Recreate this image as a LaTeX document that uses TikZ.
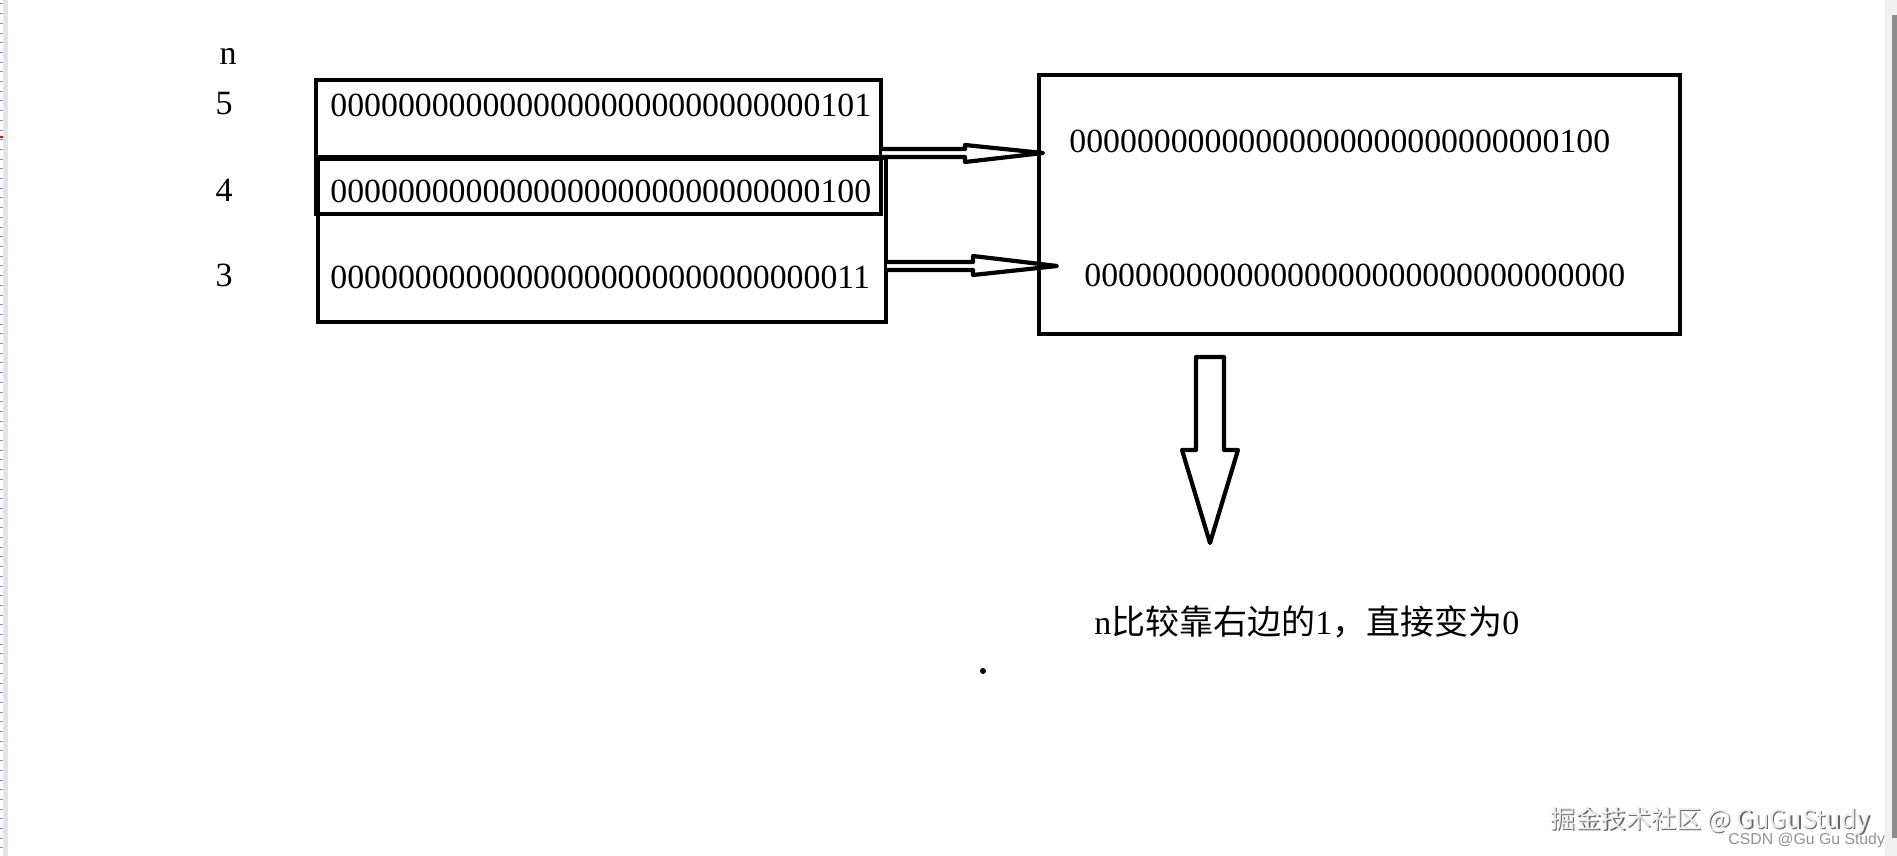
\documentclass[tikz,border=0pt]{standalone}
\usepackage{fontspec}
\setmainfont{Liberation Serif}
\newfontfamily\cjk{Noto Sans CJK SC}
\newfontfamily\wmsans{Liberation Sans}
\newcommand\zten{0000000000}
\begin{document}
\begin{tikzpicture}[x=0.5pt,y=-0.5pt,
  box/.style={draw=black,line width=2.3pt},
  blockarrow/.style={draw=black,line width=2.1pt,line join=round,fill=white},
  bits/.style={anchor=base west,inner sep=0pt,font=\fontsize{16.9}{20}\selectfont},
  lbl/.style={anchor=base,inner sep=0pt,font=\fontsize{17}{20}\selectfont}]
\useasboundingbox (0,0) rectangle (1897,856);
\fill[white] (0,0) rectangle (1897,856);
% window edges
\fill[white] (0,0) rectangle (3,856);
\fill[blue!8!gray!20] (3,0) rectangle (8,856);
\foreach \k in {0,...,88} \draw[blue!30!gray!70,line width=0.5pt] (0,{4+9.7*\k}) -- (3,{4+9.7*\k});
\draw[red,line width=0.6pt] (0,137) -- (3,137);
\fill[gray!12] (1885,0) rectangle (1897,856);
\fill[gray!90] (1892,15) rectangle (1897,838);
% labels
\node[lbl] (n) at (228,65) {n};
\node[lbl] (l5) at (224,115) {5};
\node[lbl] (l4) at (224,201) {4};
\node[lbl] (l3) at (224,286) {3};
% left boxes
\draw[box] (318,158) rectangle (886,322);
\draw[box] (886,149) -- (886,158);
\draw[box] (316,80) rectangle (881,157);
\draw[box] (316,159) rectangle (881,214);
\node[bits] (t5) at (330,117) {\zten\zten000000000101};
\node[bits] (t4) at (330,203) {\zten\zten000000000100};
\node[bits] (t3) at (330,288) {\zten\zten\zten11};
% right box
\draw[box] (1039,75) rectangle (1680,334);
\node[bits] (r1) at (1069,153) {\zten\zten000000000100};
\node[bits] (r2) at (1084,286) {\zten\zten\zten00};
% arrows
\coordinate (a1u) at (882,149);
\coordinate (a1d) at (882,157);
\coordinate (a1t) at (1043,153);
\coordinate (a2u) at (887,262);
\coordinate (a2d) at (887,270);
\coordinate (a2t) at (1057,266);
\draw[blockarrow] (a1u) -- (965,149) -- (965,145) -- (a1t) -- (965,162) -- (965,157) -- (a1d);
\draw[blockarrow] (a2u) -- (973,262) -- (973,256) -- (a2t) -- (973,275) -- (973,270) -- (a2d);
\coordinate (dtip) at (1210,543);
\draw[blockarrow] (1196,357) -- (1224,357) -- (1224,450) -- (1238,450) -- (dtip) -- (1182,450) -- (1196,450) -- cycle;
% note
\node[anchor=base west,inner sep=0pt,font=\fontsize{17}{20}\selectfont] (note) at (1094,634) {n{\cjk 比较靠右边的}1{\cjk ，直接变为}0};
\fill[black] (983,671) circle (3);
% watermarks
\node[anchor=base west,inner sep=0pt,font=\cjk\fontsize{12.6}{15}\selectfont,text=gray!80!black] (wms) at (1551.5,829.5) {掘金技术社区 @ GuGuStudy};
\node[anchor=base west,inner sep=0pt,font=\cjk\fontsize{12.6}{15}\selectfont,text=gray!15] (wm) at (1550,828) {掘金技术社区 @ GuGuStudy};
\node[anchor=base west,inner sep=0pt,font=\wmsans\fontsize{7.9}{10}\selectfont,text=gray!85] (csdn) at (1728,844) {CSDN @Gu Gu Study};
\end{tikzpicture}
\end{document}
